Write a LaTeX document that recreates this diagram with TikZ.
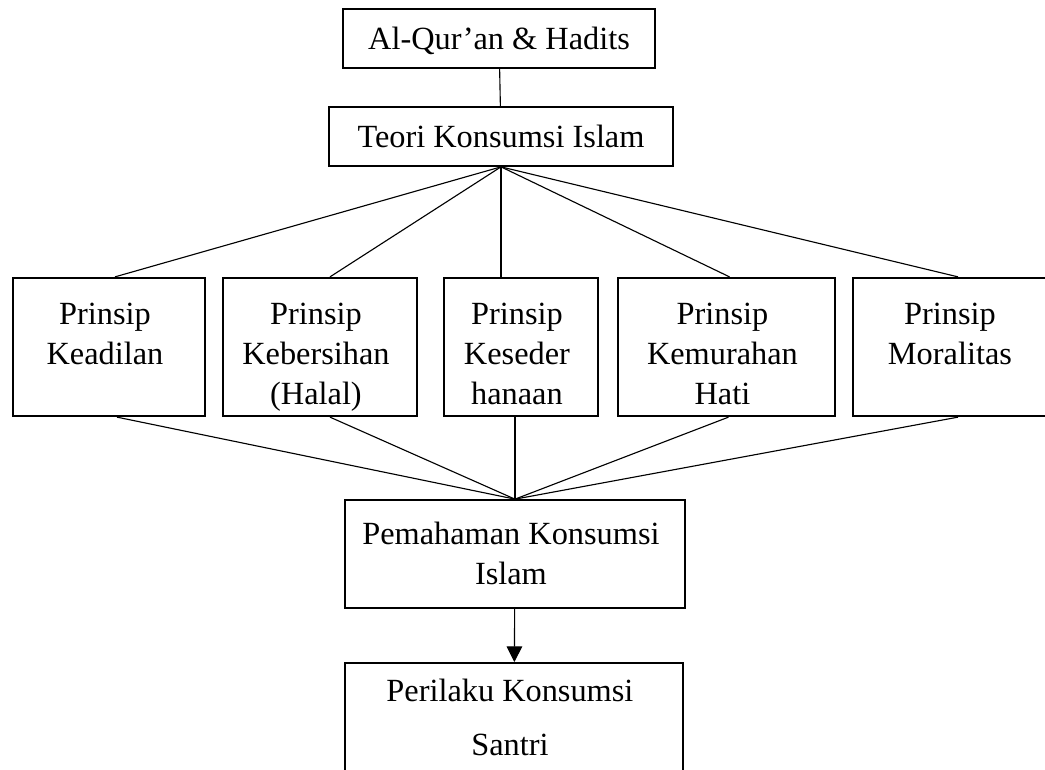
\documentclass[tikz,border=0pt]{standalone}
\usepackage{fontspec}
\setmainfont{Liberation Serif}
\usetikzlibrary{arrows.meta,calc}

\begin{document}
\begin{tikzpicture}[x=0.025cm, y=-0.025cm,
        kotak/.style={draw, line width=1.2pt, inner sep=0pt, align=center},
        garis/.style={line width=0.8pt},
        font=\fontsize{23}{28.5}\selectfont]
        \useasboundingbox (0,0) rectangle (1045,769);
        \clip (0,0) rectangle (1045,769);
        % Blocks
        \node[kotak, minimum width=7.8cm, minimum height=1.475cm] (quran) at (499,38.5) {\rule{0pt}{20pt}Al-Qur'an \& Hadits};
        \node[kotak, minimum width=8.6cm, minimum height=1.475cm] (teori) at (501,136.5) {Teori Konsumsi Islam};
        \node[kotak, minimum width=4.8cm, minimum height=3.45cm] (block1) at (109,347) {
            \begin{tabular}{c}
                \rule{0pt}{33pt}Prinsip \\
                Keadilan \\
                \mbox{}
            \end{tabular}
        };
        \node[kotak, minimum width=4.85cm, minimum height=3.45cm] (block2) at (320,347) {
            \begin{tabular}{c}
                \rule{0pt}{33pt}Prinsip \\
                Kebersihan \\
                (Halal)
            \end{tabular}
        };
        \node[kotak, minimum width=3.85cm, minimum height=3.45cm] (block3) at (521,347) {
            \begin{tabular}{c}
                \rule{0pt}{33pt}Prinsip \\
                Keseder \\
                hanaan
            \end{tabular}
        };
        \node[kotak, minimum width=5.425cm, minimum height=3.45cm] (block4) at (726.5,347) {
            \begin{tabular}{c}
                \rule{0pt}{33pt}Prinsip \\
                Kemurahan \\
                Hati
            \end{tabular}
        };
        \node[kotak, minimum width=5.05cm, minimum height=3.45cm] (block5) at (954,347) {
            \begin{tabular}{c}
                \rule{0pt}{33pt}Prinsip \\
                Moralitas \\
                \mbox{}
            \end{tabular}
        };
        \node[kotak, minimum width=8.5cm, minimum height=2.7cm] (paham) at (515,554) {
            \begin{tabular}{c}
                \rule{0pt}{24pt}Pemahaman Konsumsi \\
                Islam
            \end{tabular}
        };
        \node[kotak, minimum width=8.45cm, minimum height=2.9cm, anchor=north] (perilaku) at (514,662) {
            \begin{tabular}{c}
                Perilaku Konsumsi \\[10pt]
                Santri
            \end{tabular}
        };

        % Lines
        \draw[garis] (quran) -- (teori);
        \draw[garis] (teori.south) -- ($(block1.north)+(6,0)$);
        \draw[garis] (teori.south) -- ($(block2.north)+(10,0)$);
        \draw[garis] (teori.south) -- (teori.south |- block3.north);
        \draw[garis] (teori.south) -- ($(block4.north)+(3,0)$);
        \draw[garis] (teori.south) -- ($(block5.north)+(4,0)$);
        \draw[garis] ($(block1.south)+(8,0)$) -- (paham.north);
        \draw[garis] ($(block2.south)+(10,0)$) -- (paham.north);
        \draw[garis] (paham.north |- block3.south) -- (paham.north);
        \draw[garis] ($(block4.south)+(2,0)$) -- (paham.north);
        \draw[garis] ($(block5.south)+(4,0)$) -- (paham.north);
        \draw[garis, -{Triangle[length=0.39cm, width=0.39cm]}] (paham) -- (perilaku);

    \end{tikzpicture}
\end{document}
